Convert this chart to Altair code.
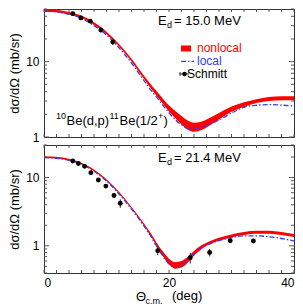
import altair as alt
import pandas as pd

# ---------------- data ----------------
theta = [0, 2, 4, 6, 8, 10, 12, 14, 16, 17, 18, 19, 20, 21, 22, 23, 24, 25, 26, 27, 28, 30, 32, 34, 36, 38, 40]

top_nonlocal = [48, 47, 44, 39.5, 32, 24, 16.5, 10.5, 6.2, 4.8, 3.8, 3.0, 2.4, 2.0, 1.68, 1.45, 1.36, 1.4, 1.52, 1.7, 1.9, 2.35, 2.7, 3.0, 3.2, 3.28, 3.27]
top_spread = [0.04, 0.04, 0.04, 0.04, 0.04, 0.04, 0.04, 0.04, 0.05, 0.06, 0.07, 0.08, 0.09, 0.11, 0.13, 0.14, 0.14, 0.13, 0.12, 0.11, 0.10, 0.08, 0.07, 0.06, 0.06, 0.06, 0.06]
top_local = [47, 46, 42.5, 37.5, 30, 22.5, 15.3, 9.6, 5.6, 4.3, 3.4, 2.65, 2.1, 1.7, 1.45, 1.3, 1.27, 1.32, 1.42, 1.54, 1.68, 2.08, 2.48, 2.64, 2.69, 2.65, 2.57]

bot_nonlocal = [20, 19.6, 18.3, 16, 12.8, 9.2, 6.0, 3.6, 2.05, 1.5, 1.06, 0.77, 0.59, 0.52, 0.54, 0.63, 0.78, 0.93, 1.06, 1.16, 1.25, 1.4, 1.52, 1.58, 1.58, 1.52, 1.42]
bot_spread = [0.03, 0.03, 0.03, 0.03, 0.03, 0.03, 0.03, 0.03, 0.04, 0.05, 0.06, 0.08, 0.10, 0.11, 0.11, 0.10, 0.08, 0.07, 0.05, 0.05, 0.05, 0.05, 0.05, 0.05, 0.05, 0.05, 0.05]
bot_local = [19.6, 19.2, 17.9, 15.6, 12.4, 8.9, 5.75, 3.45, 1.95, 1.42, 0.99, 0.71, 0.54, 0.48, 0.51, 0.61, 0.76, 0.9, 1.02, 1.11, 1.19, 1.32, 1.4, 1.4, 1.36, 1.28, 1.18]

top_exp_theta = [4.6, 5.9, 7.4, 9.1, 11.0]
top_exp_val = [43.4, 38.1, 34.5, 26.3, 18.2]
top_exp_err = [2.5, 2.2, 2.2, 1.8, 1.5]

bot_exp_theta = [4.6, 5.5, 6.5, 7.5, 8.7, 9.9, 11.2, 12.2, 18.2, 23.4, 26.5, 29.8, 33.5]
bot_exp_val = [17.5, 16.1, 14.6, 11.8, 9.2, 7.5, 5.45, 4.2, 0.85, 0.67, 0.80, 1.19, 1.18]
bot_exp_err = [0.8, 0.8, 0.8, 0.7, 0.6, 0.5, 0.45, 0.6, 0.12, 0.12, 0.1, 0.08, 0.08]

energies = ["= 15.0 MeV", "= 21.4 MeV"]
legend_labels = ["nonlocal", "local", "Schmitt"]
y_title = "dσ/dΩ  (mb/sr)"
x_ticks_major = [0, 20, 40]
x_minor = list(range(0, 41, 2))
top_domain = [1, 50]
bot_domain = [0.4, 30]
top_yminor = [2, 3, 4, 5, 6, 7, 8, 9, 20, 30, 40, 50]
bot_yminor = [0.4, 0.5, 0.6, 0.7, 0.8, 0.9, 2, 3, 4, 5, 6, 7, 8, 9, 20, 30]

# ---------------- layout ----------------
W, H = 250, 128
RED = "#ff0000"
BLUE = "#3040f0"
TICK = "#555555"
FONT = "Liberation Sans"

xscale = alt.Scale(domain=[0, 40], nice=False, zero=False)
one = pd.DataFrame({"a": [0]})


def text(s, x, y, size=13, color="black"):
    return alt.Chart(one).mark_text(
        text=s, align="left", baseline="middle", fontSize=size, color=color, font=FONT
    ).encode(x=alt.value(x), y=alt.value(y))


def panel(nonlocal_, spread, local, ex_t, ex_v, ex_e, domain, yminor, show_x, extra):
    yscale = alt.Scale(type="log", domain=domain, nice=False)
    curves = pd.DataFrame({
        "theta": theta,
        "lo": [v * (1 - s) for v, s in zip(nonlocal_, spread)],
        "hi": [v * (1 + s) for v, s in zip(nonlocal_, spread)],
        "local": local,
    })
    pts = pd.DataFrame({
        "theta": ex_t, "v": ex_v,
        "lo": [v - e for v, e in zip(ex_v, ex_e)],
        "hi": [v + e for v, e in zip(ex_v, ex_e)],
    })
    if show_x:
        xaxis = alt.Axis(values=x_ticks_major, ticks=False, domain=False, grid=False,
                         title=None, labelPadding=4, format="d")
    else:
        xaxis = alt.Axis(values=x_ticks_major, ticks=False, domain=False, grid=False,
                         title=None, labels=False)
    yaxis = alt.Axis(values=[1, 10], ticks=False, domain=False, grid=False, format="~g",
                     title=y_title, labelPadding=5, titlePadding=4)
    X = lambda f: alt.X(f, scale=xscale, axis=xaxis)
    Y = lambda f: alt.Y(f, scale=yscale, axis=yaxis)

    band = alt.Chart(curves).mark_area(color=RED, clip=True, interpolate="monotone", opacity=1).encode(
        x=X("theta:Q"), y=Y("lo:Q"), y2="hi:Q",
    )
    loc = alt.Chart(curves).mark_line(color=BLUE, strokeWidth=1.3, strokeDash=[5, 2, 1.5, 2],
                                      clip=True, interpolate="monotone").encode(
        x=X("theta:Q"), y=Y("local:Q"),
    )
    err = alt.Chart(pts).mark_rule(color="#222222", strokeWidth=1).encode(
        x=X("theta:Q"), y=Y("lo:Q"), y2="hi:Q",
    )
    dots = alt.Chart(pts).mark_circle(color="black", size=24, opacity=1).encode(
        x=X("theta:Q"), y=Y("v:Q"),
    )
    # inward ticks
    xt = pd.DataFrame({"theta": x_minor})
    xt_bot = alt.Chart(xt).mark_rule(color=TICK, strokeWidth=1).encode(
        x=X("theta:Q"), y=alt.value(H), y2=alt.value(H - 3))
    xt_top = alt.Chart(xt).mark_rule(color=TICK, strokeWidth=1).encode(
        x=X("theta:Q"), y=alt.value(0), y2=alt.value(3))
    majors = [v for v in [0.1, 1, 10, 100] if domain[0] <= v <= domain[1]]
    yt_minor = pd.DataFrame({"v": yminor})
    yt_major = pd.DataFrame({"v": majors})
    ylayers = []
    for df, ln in [(yt_minor, 3), (yt_major, 5)]:
        ylayers.append(alt.Chart(df).mark_rule(color=TICK, strokeWidth=1).encode(
            y=Y("v:Q"), x=alt.value(0), x2=alt.value(ln)))
        ylayers.append(alt.Chart(df).mark_rule(color=TICK, strokeWidth=1).encode(
            y=Y("v:Q"), x=alt.value(W), x2=alt.value(W - ln)))
    return alt.layer(band, loc, err, dots, xt_bot, xt_top, *ylayers, *extra).properties(width=W, height=H)


s = H / 133.0

# energy labels
def energy(label, y):
    return [text("E", 114, y), text("d", 123, y + 4, size=9), text(label, 130, y)]

# legend (top panel)
legend = [
    alt.Chart(one).mark_rect(color=RED).encode(
        x=alt.value(137), x2=alt.value(147), y=alt.value(41 * s - 3), y2=alt.value(41 * s + 3)),
    text(legend_labels[0], 153, 41 * s, size=12, color=RED),
    alt.Chart(one).mark_rule(color=BLUE, strokeWidth=1.3, strokeDash=[5, 2, 1.5, 2]).encode(
        x=alt.value(137), x2=alt.value(150), y=alt.value(54.5 * s)),
    text(legend_labels[1], 153, 54 * s, size=12, color=BLUE),
    alt.Chart(one).mark_rule(color="#222222", strokeWidth=1).encode(
        x=alt.value(136), x2=alt.value(145), y=alt.value(67.5 * s)),
    alt.Chart(one).mark_rule(color="#222222", strokeWidth=1).encode(
        x=alt.value(136), y=alt.value(67.5 * s - 2), y2=alt.value(67.5 * s + 2)),
    alt.Chart(one).mark_circle(color="black", size=20, opacity=1).encode(
        x=alt.value(140.5), y=alt.value(67.5 * s)),
    text(legend_labels[2], 143, 67.5 * s, size=12),
]

ry = 116 * s
reaction = [
    text("10", 12, ry - 5, size=9), text("Be(d,p)", 22.5, ry),
    text("11", 65.5, ry - 5, size=9), text("Be(1/2", 75.5, ry),
    text("+", 114, ry - 5, size=9), text(")", 119.5, ry),
]

xtitle = [text("Θ", 92, H + 24), text("c.m.", 101.5, H + 28, size=9), text("(deg)", 128, H + 23)]

top = panel(top_nonlocal, top_spread, top_local, top_exp_theta, top_exp_val, top_exp_err,
            top_domain, top_yminor, False, energy(energies[0], 12 * s) + legend + reaction)
bottom = panel(bot_nonlocal, bot_spread, bot_local, bot_exp_theta, bot_exp_val, bot_exp_err,
               bot_domain, bot_yminor, True, energy(energies[1], 13 * s) + xtitle)

chart = alt.vconcat(top, bottom, spacing=0).properties(
    padding={"left": 0, "top": 0, "right": 0, "bottom": 0}
).configure(font=FONT).configure_view(stroke="#333333", strokeWidth=1).configure_axis(
    labelFont=FONT, titleFont=FONT, labelFontSize=12, titleFontSize=13,
    titleFontWeight="normal", labelColor="black", titleColor="black"
)

chart.save("out.html", embed_options={"renderer": "svg", "actions": False})
